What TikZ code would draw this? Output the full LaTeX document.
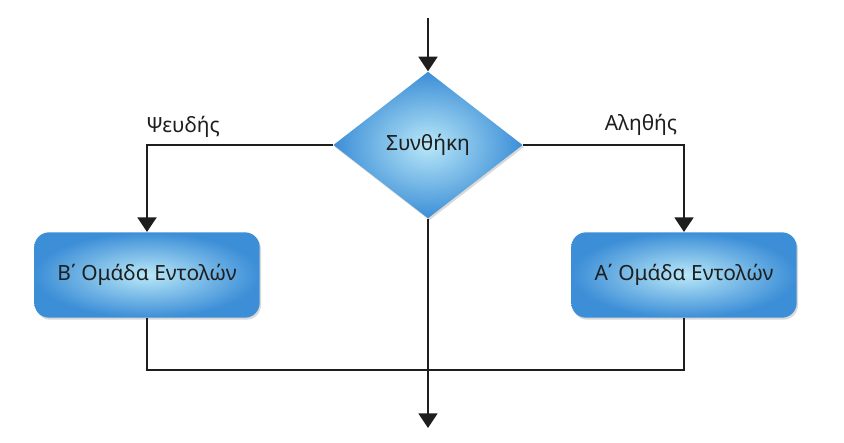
\documentclass[tikz,border=0pt]{standalone}
\usepackage{fontspec}
\setmainfont{Noto Sans}
\usetikzlibrary{shapes.geometric,arrows.meta,shadows}

\definecolor{inblue}{RGB}{185,232,248}
\definecolor{outblue}{RGB}{60,142,215}
\definecolor{ink}{RGB}{30,30,30}

\tikzset{
	blockfill/.style={shading=radial,inner color=inblue,outer color=outblue,
		drop shadow={opacity=0.3,shadow xshift=1pt,shadow yshift=-1.5pt}},
	cmdbox/.style={blockfill,rounded corners=11pt,minimum width=169pt,minimum height=64pt,
		font=\fontsize{15.7}{18}\selectfont,text=ink},
	testbox/.style={blockfill,diamond,aspect=1.3,inner sep=0pt,minimum width=142pt,minimum height=110pt,
		font=\fontsize{15.7}{18}\selectfont,text=ink},
	flow/.style={line width=2.2pt,draw=ink},
	tip/.style={-{Triangle[width=14pt,length=11pt]}}
}

\begin{document}
\begin{tikzpicture}[x=0.75pt,y=-0.75pt,every node/.style={ink}]
	\useasboundingbox (0,0) rectangle (844,443);

	\coordinate (start) at (428,18);
	\coordinate (join) at (428,370);
	\coordinate (end) at (428,428);

	\node[testbox] (cond) at (428,145) {Συνθήκη};
	\node[cmdbox] (grpB) at (147,275) {Β΄ Ομάδα Εντολών};
	\node[cmdbox] (grpA) at (684,275) {Α΄ Ομάδα Εντολών};

	\node[font=\fontsize{15.7}{18}\selectfont] (lblF) at (183,127) {Ψευδής};
	\node[font=\fontsize{15.7}{18}\selectfont] (lblT) at (641,125) {Αληθής};

	\begin{scope}[flow]
		\draw[tip] (start) -- (cond.north);
		\draw[tip] (cond.west) -| (grpB.north);
		\draw[tip] (cond.east) -| (grpA.north);
		\draw (grpB.south) |- (join) -| (grpA.south);
		\draw[tip] (cond.south) -- (end);
	\end{scope}
\end{tikzpicture}
\end{document}
